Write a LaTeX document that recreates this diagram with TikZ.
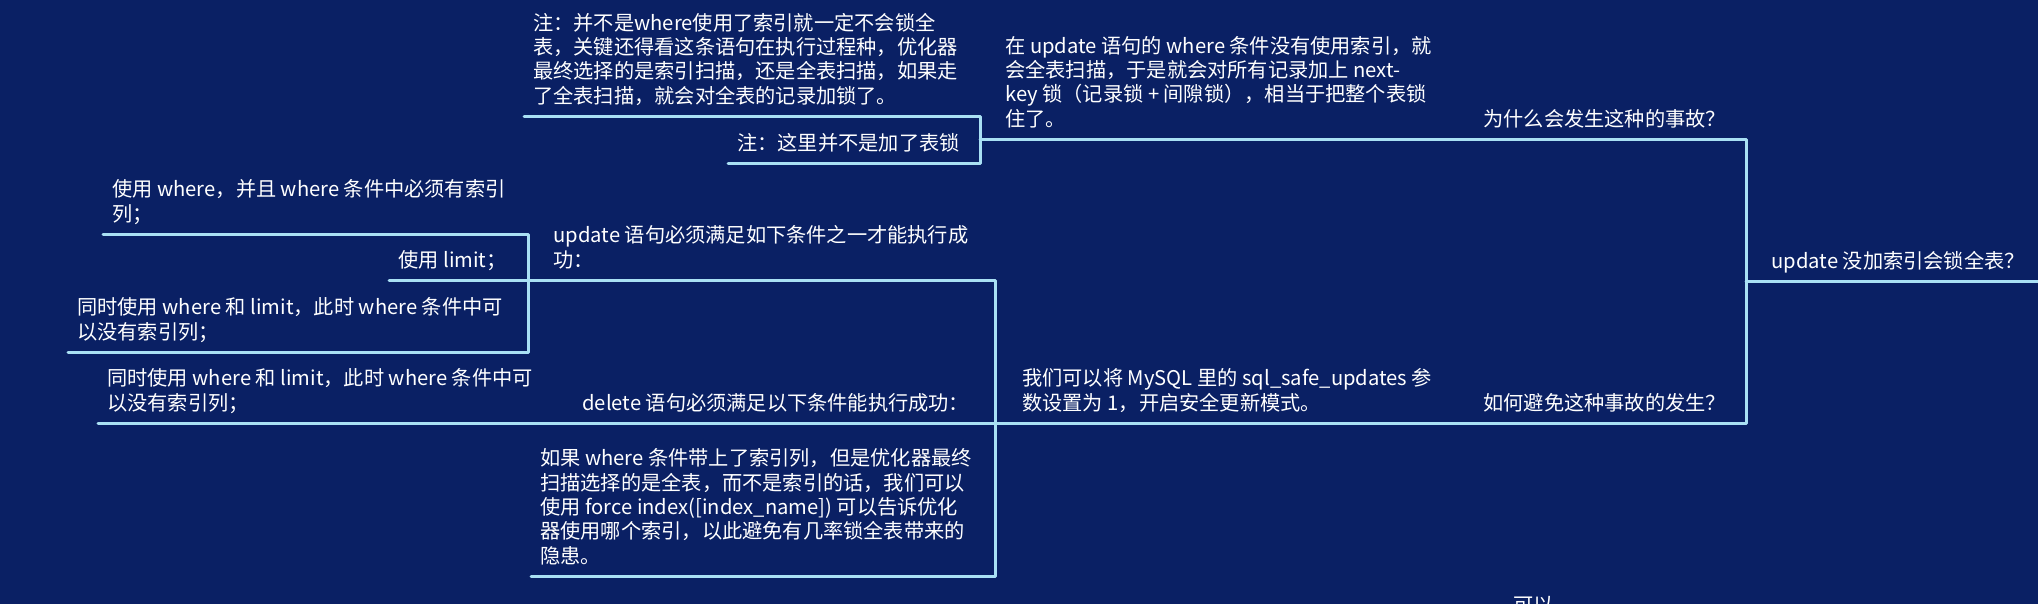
\documentclass[tikz,border=0pt]{standalone}
\usepackage{fontspec}
\usepackage{tikz}
\newfontfamily\cjk{Noto Sans CJK SC}
\definecolor{Navy}{HTML}{0A2064}
\definecolor{Ice}{HTML}{A9E0F4}

\begin{document}
\begin{tikzpicture}[x=0.2mm,y=-0.2mm,
    topic/.style={anchor=south west,inner xsep=1.8mm,inner ysep=1mm,align=left,text=white,
      font=\cjk\fontsize{11.5}{13.9}\selectfont,execute at end node=\strut},
    link/.style={draw=Ice,line width=0.6mm,line cap=round,line join=round}]
    \fill[Navy] (0,0) rectangle (2038,604);
    \useasboundingbox (0,0) rectangle (2038,604);

    \coordinate (jroot) at (1746,281);
    \coordinate (jwhy) at (980,139);
    \coordinate (javoid) at (995,423);
    \coordinate (jupdate) at (528,280);

    \node[topic] (root) at (1762,281) {update 没加索引会锁全表？};
    \node[topic] (why) at (1474,139) {为什么会发生这种的事故？};
    \node[topic] (avoid) at (1474,423) {如何避免这种事故的发生？};
    \node[topic] (reason) at (996,139) {在 update 语句的 where 条件没有使用索引，就\\会全表扫描，于是就会对所有记录加上 next-\\key 锁（记录锁 + 间隙锁），相当于把整个表锁\\住了。};
    \node[topic] (noteA) at (524,116) {注：并不是where使用了索引就一定不会锁全\\表，关键还得看这条语句在执行过程种，优化器\\最终选择的是索引扫描，还是全表扫描，如果走\\了全表扫描，就会对全表的记录加锁了。};
    \node[topic] (noteB) at (728,163) {注：这里并不是加了表锁};
    \node[topic] (safe) at (1013,423) {我们可以将 MySQL 里的 sql\_safe\_updates 参\\数设置为 1，开启安全更新模式。};
    \node[topic] (update) at (544,280) {update 语句必须满足如下条件之一才能执行成\\功：};
    \node[topic] (delete) at (573,423) {delete 语句必须满足以下条件能执行成功：};
    \node[topic] (force) at (531,576) {如果 where 条件带上了索引列，但是优化器最终\\扫描选择的是全表，而不是索引的话，我们可以\\使用 force index([index\_name]) 可以告诉优化\\器使用哪个索引，以此避免有几率锁全表带来的\\隐患。};
    \node[topic] (where) at (103,234) {使用 where，并且 where 条件中必须有索引\\列；};
    \node[topic] (limit) at (389,280) {使用 limit；};
    \node[topic] (both) at (68,352) {同时使用 where 和 limit，此时 where 条件中可\\以没有索引列；};
    \node[topic] (both2) at (98,423) {同时使用 where 和 limit，此时 where 条件中可\\以没有索引列；};
    \node[topic,anchor=north west] (more) at (1504,590) {可以};

    \draw[link] (jroot) -- ([xshift=2mm]root.south east);
    \draw[link] (jwhy) -- (why.south west) -- (why.south west -| jroot) -- (avoid.south west -| jroot) -- (javoid);
    \draw[link] (noteA.south west) -- (noteA.south west -| jwhy) -- (noteB.south west -| jwhy) -- (noteB.south west);
    \draw[link] (jupdate) -- (jupdate -| javoid) -- (force.south west -| javoid) -- (force.south west);
    \draw[link] (both2.south west) -- (both2.south west -| javoid);
    \draw[link] (where.south west) -- (where.south west -| jupdate) -- (both.south west -| jupdate) -- (both.south west);
    \draw[link] (limit.south west) -- (limit.south west -| jupdate);
\end{tikzpicture}
\end{document}
